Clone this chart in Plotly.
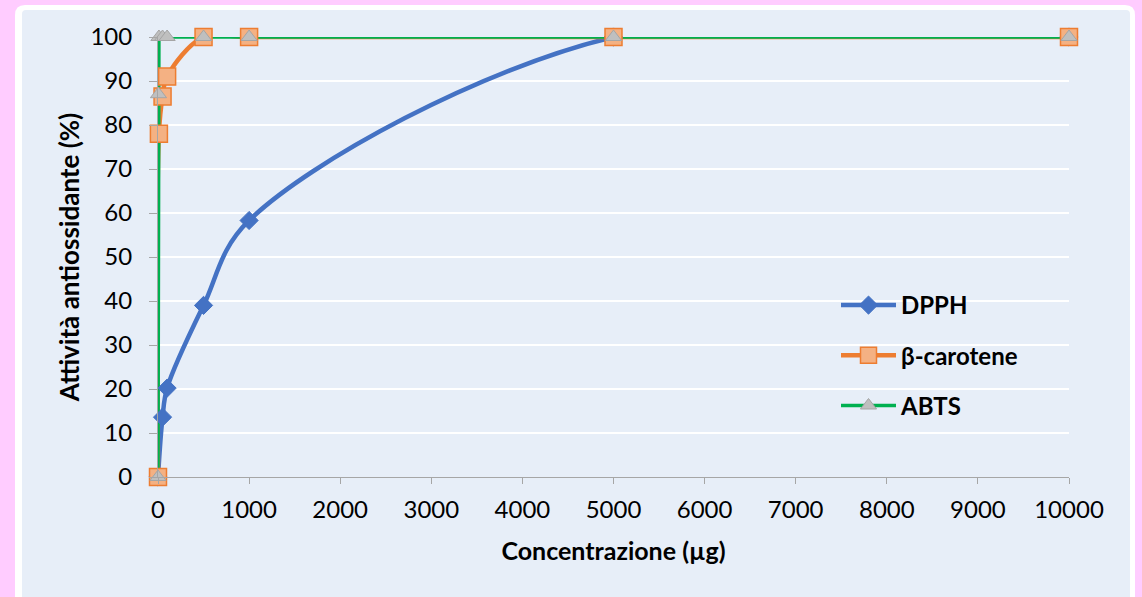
import plotly.graph_objects as go

# ---- data ----
dpph_x = [0, 50, 100, 500, 1000, 5000, 10000]
dpph_y = [0, 13.6, 20.2, 39.0, 58.3, 100, 100]
beta_x = [0, 10, 50, 100, 500, 1000, 5000, 10000]
beta_y = [0, 78, 86.5, 91, 100, 100, 100, 100]
abts_x = [0, 5, 10, 50, 100, 500, 1000, 5000, 10000]
abts_y = [0, 87, 100, 100, 100, 100, 100, 100, 100]
series_names = ["DPPH", "β-carotene", "ABTS"]
x_title = "Concentrazione (µg)"
y_title = "Attività antiossidante (%)"

W, H = 1142, 597
L, R, T, B = 158, 73, 37, 120
PW, PH = W - L - R, H - T - B

BLUE = "#4472C4"
ORANGE = "#ED7D31"
ORANGE_FILL = "#F4B183"
GREEN = "#00B050"
GRAY_FILL = "#BFBFBF"
GRAY_LINE = "#A5A5A5"
BG = "#E7EEF8"
PINK = "#FFCCFF"
FONT = "Lato"


def px(x):
    return (x - L) / PW


def py(y):
    return (H - B - y) / PH


def rrect(x0, y0, x1, y1, r):
    def P(x, y):
        return f"{px(x):.5f},{py(y):.5f}"
    d = (f"M {P(x0 + r, y0)} L {P(x1 - r, y0)} Q {P(x1, y0)} {P(x1, y0 + r)} "
         f"L {P(x1, y1 - r)} Q {P(x1, y1)} {P(x1 - r, y1)} "
         f"L {P(x0 + r, y1)} Q {P(x0, y1)} {P(x0, y1 - r)} "
         f"L {P(x0, y0 + r)} Q {P(x0, y0)} {P(x0 + r, y0)} Z")
    return d


fig = go.Figure()

# lines first
fig.add_trace(go.Scatter(x=dpph_x, y=dpph_y, mode="lines", line=dict(color=BLUE, width=4.5, shape="spline"),
                         showlegend=False, hoverinfo="skip", cliponaxis=False))
fig.add_trace(go.Scatter(x=beta_x, y=beta_y, mode="lines", line=dict(color=ORANGE, width=4.5, shape="spline"),
                         showlegend=False, hoverinfo="skip", cliponaxis=False))
fig.add_trace(go.Scatter(x=abts_x, y=abts_y, mode="lines", line=dict(color=GREEN, width=3.5),
                         showlegend=False, hoverinfo="skip", cliponaxis=False))

# markers
m_dpph = dict(symbol="diamond", size=14, color=BLUE, line=dict(color=BLUE, width=1))
m_beta = dict(symbol="square", size=17, color=ORANGE_FILL, line=dict(color=ORANGE, width=1.5))
m_abts = dict(symbol="triangle-up", size=14, color=GRAY_FILL, line=dict(color=GRAY_LINE, width=1))

fig.add_trace(go.Scatter(x=dpph_x, y=dpph_y, mode="markers", marker=m_dpph, showlegend=False, cliponaxis=False))
fig.add_trace(go.Scatter(x=beta_x, y=beta_y, mode="markers", marker=m_beta, showlegend=False, cliponaxis=False))
fig.add_trace(go.Scatter(x=abts_x, y=abts_y, mode="markers", marker=m_abts, showlegend=False, cliponaxis=False))

# legend entries
for name, col, lw, mk in [(series_names[0], BLUE, 4.5, m_dpph), (series_names[1], ORANGE, 4.5, m_beta),
                          (series_names[2], GREEN, 3.5, m_abts)]:
    fig.add_trace(go.Scatter(x=[None], y=[None], mode="lines+markers", name=name, legendgroup=name,
                             line=dict(color=col, width=lw), marker=mk))

fig.update_layout(
    width=W, height=H,
    margin=dict(l=L, r=R, t=T, b=B),
    paper_bgcolor=PINK,
    plot_bgcolor="rgba(0,0,0,0)",
    font=dict(family=FONT, size=24, color="#000000"),
    showlegend=True,
    legend=dict(x=px(836), y=py(283), xanchor="left", yanchor="top", bgcolor="rgba(0,0,0,0)",
                font=dict(family=FONT, size=24, color="#000000", weight="bold"),
                itemwidth=55, tracegroupgap=16, traceorder="grouped"),
    shapes=[
        dict(type="path", xref="paper", yref="paper", path=rrect(15, 5, 1135, 660, 10),
             fillcolor="#FFFFFF", line=dict(width=0), layer="below"),
        dict(type="path", xref="paper", yref="paper", path=rrect(22, 10, 1130, 660, 4),
             fillcolor=BG, line=dict(width=0), layer="below"),
    ],
)

fig.update_xaxes(
    range=[0, 10000], dtick=1000, tick0=0, tickformat="d",
    showgrid=False, zeroline=False,
    showline=True, linecolor="#A6A6A6", linewidth=1,
    ticks="outside", ticklen=6, tickcolor="#A6A6A6",
    tickfont=dict(family=FONT, size=24, color="#000000"),
    ticklabelstandoff=5,
    title=dict(text=x_title, font=dict(family=FONT, size=25, color="#000000", weight="bold"), standoff=20),
)
fig.update_yaxes(
    range=[0, 100], dtick=10, tick0=0,
    showgrid=True, gridcolor="#FFFFFF", gridwidth=1.5,
    zeroline=False,
    showline=True, linecolor="#A6A6A6", linewidth=1,
    ticks="outside", ticklen=8, tickcolor="#A6A6A6",
    tickfont=dict(family=FONT, size=24, color="#000000"),
    ticklabelstandoff=12,
    title=dict(text=y_title, font=dict(family=FONT, size=26, color="#000000", weight="bold"), standoff=3),
)

fig.write_html("out.html", config={"displayModeBar": False},
               post_script="document.body.style.margin='0px';document.body.style.overflow='hidden';")
